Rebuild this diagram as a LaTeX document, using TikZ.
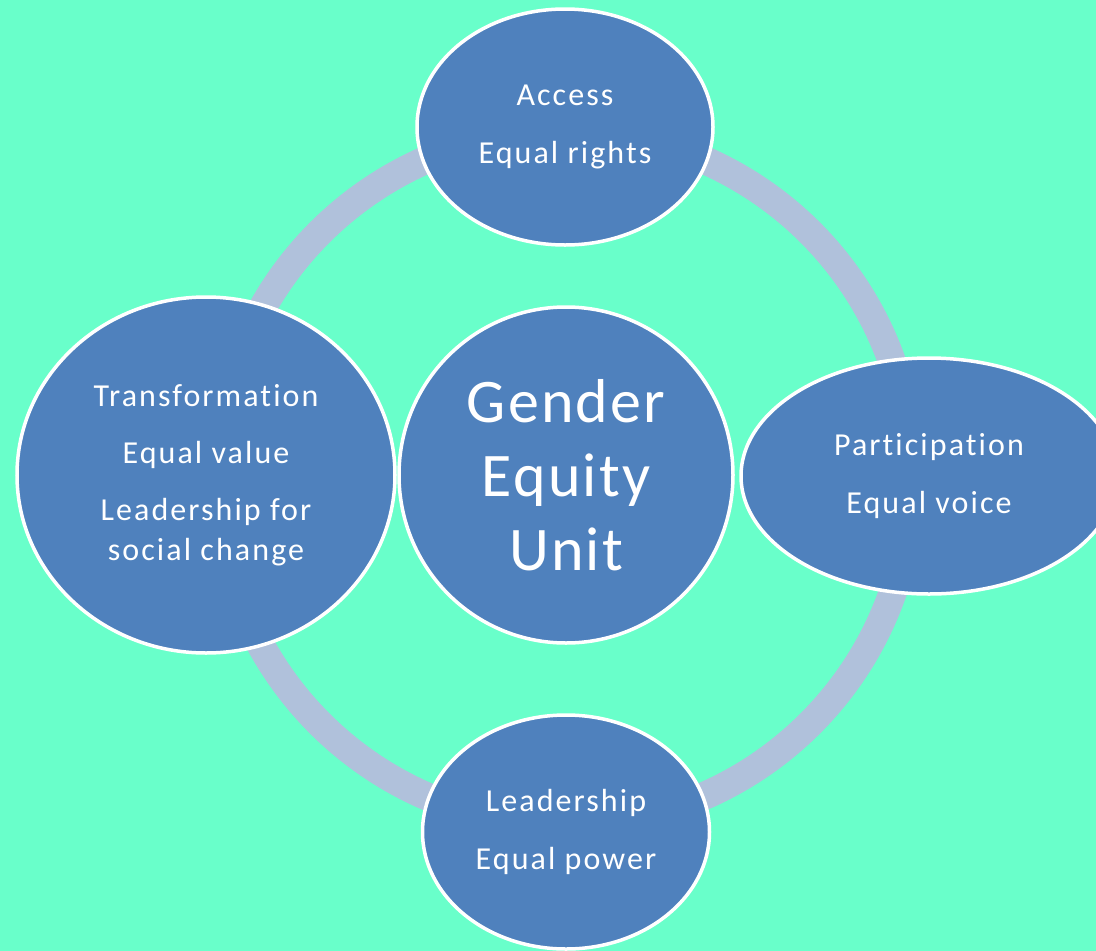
\documentclass[tikz,border=0pt]{standalone}
\usepackage{fontspec}
\setmainfont{Carlito}[RawFeature=-liga]
\newfontfamily\bubbleface{Carlito}[LetterSpace=6.5, RawFeature=-liga]
\newfontfamily\hubface{Carlito}[LetterSpace=3.5, RawFeature=-liga]
\usetikzlibrary{shapes.geometric}
\definecolor{mint}{HTML}{69FFCA}
\definecolor{ringc}{HTML}{B0C1DB}
\definecolor{unitblue}{HTML}{4F81BD}
\tikzset{
  bubble/.style={ellipse, fill=unitblue, draw=white, line width=3.5pt,
    inner sep=0pt, text=white, align=center,
    font=\bubbleface\fontsize{32}{40}\selectfont},
  hub/.style={bubble, font=\hubface\fontsize{62}{74}\selectfont}
}
\begin{document}
\begin{tikzpicture}[x=1pt, y=-1pt]
  \clip (0,0) rectangle (1096,951);
  \fill[mint] (0,0) rectangle (1096,951);
  % the connecting ring
  \draw[ringc, line width=28pt] (565,478) circle[radius=347pt];
  % outer bubbles
  \node[bubble, minimum width=296pt, minimum height=236pt] (access) at (565,127)
    {Access\\[18pt]Equal rights};
  \node[bubble, minimum width=376pt, minimum height=236pt] (part) at (929,476)
    {Participation\\[18pt]Equal voice};
  \node[bubble, minimum width=287pt, minimum height=234pt] (lead) at (566,832)
    {Leadership\\[18pt]Equal power};
  \node[bubble, minimum width=378pt, minimum height=356pt] (trans) at (206,475)
    {Transformation\\[17pt]Equal value\\[17pt]Leadership for\\social change};
  % central bubble
  \node[hub, minimum width=334pt, minimum height=336pt] (gender) at (566,475)
    {Gender\\Equity\\Unit};
\end{tikzpicture}
\end{document}
